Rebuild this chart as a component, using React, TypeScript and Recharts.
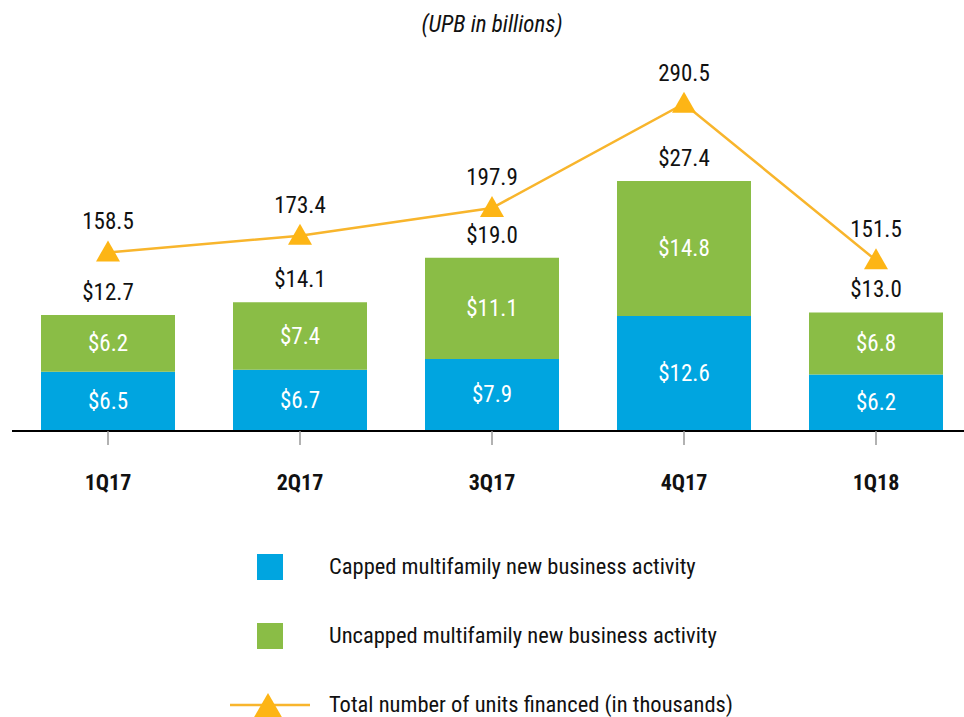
import React from 'react';
import { ComposedChart, Bar, Line, XAxis, YAxis, LabelList } from 'recharts';

const categories = ['1Q17', '2Q17', '3Q17', '4Q17', '1Q18'];
const cappedValues = [6.5, 6.7, 7.9, 12.6, 6.2];
const uncappedValues = [6.2, 7.4, 11.1, 14.8, 6.8];
const totalLabels = ['$12.7', '$14.1', '$19.0', '$27.4', '$13.0'];
const unitsFinanced = [158.5, 173.4, 197.9, 290.5, 151.5];

const legendLabels = [
  'Capped multifamily new business activity',
  'Uncapped multifamily new business activity',
  'Total number of units financed (in thousands)',
];

const BLUE = '#00A5E0';
const GREEN = '#8ABD46';
const ORANGE = '#FDB515';
const LINE = '#F8B52C';
const FONT = "'Liberation Sans Narrow', 'Roboto Condensed', 'Arial Narrow', Roboto, sans-serif";

const data = categories.map((c, i) => ({
  name: c,
  capped: cappedValues[i],
  uncapped: uncappedValues[i],
  total: totalLabels[i],
  units: unitsFinanced[i],
}));

const Triangle = (props: any) => {
  const { cx, cy } = props;
  if (cx == null || cy == null) return null;
  return (
    <polygon
      points={`${cx},${cy - 12} ${cx - 12},${cy + 9} ${cx + 12},${cy + 9}`}
      fill={ORANGE}
    />
  );
};

const InnerLabel = (props: any) => {
  const { x, y, width, height, value } = props;
  return (
    <text
      x={x + width / 2}
      y={y + height / 2}
      fill="#fff"
      fontSize={23}
      textAnchor="middle"
      dominantBaseline="central"
      fontFamily={FONT}
    >
      ${Number(value).toFixed(1)}
    </text>
  );
};

const TotalLabel = (props: any) => {
  const { x, y, width, index } = props;
  return (
    <text
      x={x + width / 2}
      y={y - 15}
      fill="#111"
      fontSize={23}
      textAnchor="middle"
      fontFamily={FONT}
    >
      {totalLabels[index]}
    </text>
  );
};

const UnitsLabel = (props: any) => {
  const { x, y, value } = props;
  return (
    <text x={x} y={y - 23} fill="#111" fontSize={23} textAnchor="middle" fontFamily={FONT}>
      {Number(value).toFixed(1)}
    </text>
  );
};

const CategoryTick = (props: any) => {
  const { x, y, payload } = props;
  return (
    <text
      x={x}
      y={y + 43}
      fill="#111"
      fontSize={22}
      fontWeight="bold"
      textAnchor="middle"
      fontFamily={FONT}
    >
      {payload.value}
    </text>
  );
};

export default function App() {
  return (
    <div
      style={{
        position: 'absolute',
        left: 0,
        top: 0,
        width: 964,
        height: 717,
        overflow: 'hidden',
        background: '#fff',
        fontFamily: FONT,
      }}
    >
      <div
        style={{
          position: 'absolute',
          top: 11,
          left: 0,
          width: 984,
          textAlign: 'center',
          fontStyle: 'italic',
          fontSize: 23,
          color: '#111',
        }}
      >
        (UPB in billions)
      </div>
      <div style={{ position: 'absolute', left: 0, top: 0 }}>
        <ComposedChart
          width={972}
          height={520}
          data={data}
          margin={{ top: 66, right: 0, left: 12, bottom: 0 }}
          barCategoryGap={58}
        >
          <XAxis
            dataKey="name"
            height={89}
            axisLine={{ stroke: '#000', strokeWidth: 2 }}
            tickLine={{ stroke: '#999', strokeWidth: 1.5 }}
            tickSize={14}
            tick={<CategoryTick />}
            interval={0}
          />
          <YAxis yAxisId="bar" domain={[0, 40]} hide />
          <YAxis yAxisId="line" domain={[0, 324]} hide orientation="right" />
          <Bar dataKey="capped" stackId="a" yAxisId="bar" fill={BLUE} barSize={134} isAnimationActive={false}>
            <LabelList dataKey="capped" content={<InnerLabel />} />
          </Bar>
          <Bar dataKey="uncapped" stackId="a" yAxisId="bar" fill={GREEN} barSize={134} isAnimationActive={false}>
            <LabelList dataKey="uncapped" content={<InnerLabel />} />
            <LabelList dataKey="total" content={<TotalLabel />} />
          </Bar>
          <Line
            dataKey="units"
            yAxisId="line"
            stroke={LINE}
            strokeWidth={2.5}
            dot={<Triangle />}
            activeDot={false}
            isAnimationActive={false}
          >
            <LabelList dataKey="units" content={<UnitsLabel />} />
          </Line>
        </ComposedChart>
      </div>
      <div style={{ position: 'absolute', left: 0, top: 0, width: 964, height: 717, pointerEvents: 'none' }}>
        {legendLabels.map((label, i) => {
          const cy = [567, 636, 705][i];
          return (
            <div key={label}>
              {i < 2 ? (
                <div
                  style={{
                    position: 'absolute',
                    left: 257,
                    top: cy - 13,
                    width: 26,
                    height: 26,
                    background: i === 0 ? BLUE : GREEN,
                  }}
                />
              ) : (
                <svg style={{ position: 'absolute', left: 230, top: cy - 20, overflow: 'visible' }} width={82} height={40}>
                  <line x1={0} y1={20} x2={80} y2={20} stroke={LINE} strokeWidth={2.5} />
                  <polygon points="38,8 23,34 53,34" fill={ORANGE} />
                </svg>
              )}
              <div
                style={{
                  position: 'absolute',
                  left: 329,
                  top: cy - 15,
                  fontSize: 22.5,
                  lineHeight: '28px',
                  color: '#111',
                  whiteSpace: 'nowrap',
                }}
              >
                {label}
              </div>
            </div>
          );
        })}
      </div>
    </div>
  );
}
